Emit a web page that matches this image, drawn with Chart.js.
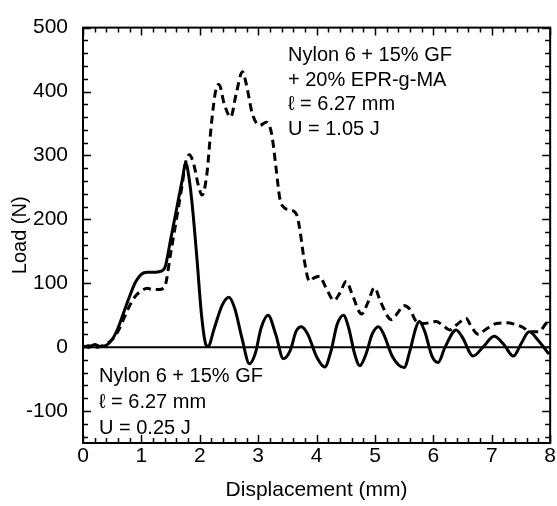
<!DOCTYPE html>
<html lang="en">
<head>
<meta charset="UTF-8" />
<title>Load vs Displacement</title>
<script src="https://cdn.jsdelivr.net/npm/chart.js"></script>
<style>
  body { margin: 0; background: #fff; }
  #wrap { width: 557px; height: 506px; }
</style>
</head>
<body>
<div id="wrap"><canvas id="grafico"></canvas></div>
<script>
// Nylon 6 + 15% GF + 20% EPR-g-MA (dashed)
const xBlend = [0.00, 0.10, 0.20, 0.30, 0.40, 0.50, 0.60, 0.70, 0.80, 0.90, 1.00, 1.10, 1.20, 1.30, 1.40,
  1.50, 1.60, 1.70, 1.76, 1.82, 1.90, 1.97, 2.04, 2.12, 2.20, 2.28, 2.33, 2.42, 2.53, 2.62, 2.73, 2.80,
  2.90, 3.03, 3.14, 3.23, 3.30, 3.37, 3.45, 3.54, 3.66, 3.72, 3.78, 3.88, 3.95, 4.05, 4.15, 4.30, 4.40,
  4.51, 4.60, 4.77, 4.88, 4.99, 5.10, 5.28, 5.40, 5.49, 5.59, 5.71, 5.83, 6.05, 6.15, 6.28, 6.40, 6.56,
  6.65, 6.77, 6.90, 7.08, 7.25, 7.42, 7.55, 7.64, 7.81, 7.93, 8.00];
const yBlend = [0, 2, 0, 1, 5, 12, 25, 45, 65, 80, 88, 92, 90, 90, 95,
  146, 200, 255, 290, 301, 285, 255, 238, 270, 350, 405, 411, 380, 360, 395, 431, 410,
  365, 347, 352, 334, 285, 233, 218, 215, 207, 180, 141, 103, 108, 111, 95, 73, 85,
  103, 85, 52, 70, 93, 70, 43, 55, 65, 60, 40, 37, 40, 35, 27, 35, 45,
  32, 20, 28, 37, 38, 35, 30, 24, 24, 37, 40];

// Nylon 6 + 15% GF (solid)
const xPlain = [0.00, 0.10, 0.20, 0.30, 0.40, 0.50, 0.60, 0.70, 0.80, 0.90, 1.00, 1.10, 1.20, 1.30, 1.40,
  1.50, 1.60, 1.70, 1.76, 1.82, 1.87, 1.95, 2.03, 2.10, 2.14, 2.25, 2.38, 2.50, 2.60, 2.72, 2.85, 2.95,
  3.05, 3.17, 3.30, 3.43, 3.55, 3.65, 3.74, 3.85, 4.00, 4.14, 4.25, 4.35, 4.46, 4.55, 4.65, 4.74, 4.85,
  4.95, 5.06, 5.15, 5.30, 5.50, 5.60, 5.70, 5.76, 5.85, 5.98, 6.08, 6.20, 6.39, 6.50, 6.68, 6.85, 7.04,
  7.20, 7.37, 7.50, 7.64, 7.80, 7.98];
const yPlain = [2, 0, 4, 1, 3, 12, 30, 55, 80, 102, 114, 117, 117, 118, 124,
  168, 215, 262, 288, 262, 223, 140, 50, 5, 1, 30, 65, 78, 60, 15, -26, -10,
  30, 50, 20, -18, -5, 25, 32, 20, -15, -31, -5, 35, 50, 30, -10, -29, -10,
  20, 32, 20, -15, -32, -5, 30, 40, 25, -15, -24, 0, 27, 15, -14, 0, 17,
  5, -14, 5, 24, 10, -11];

const xTicks = [0, 1, 2, 3, 4, 5, 6, 7, 8];
const yTicks = [-100, 0, 100, 200, 300, 400, 500];

const textoBlend = ['Nylon 6 + 15% GF', '+ 20% EPR-g-MA', '\u2113 = 6.27 mm', 'U = 1.05 J'];
const textoPlain = ['Nylon 6 + 15% GF', '\u2113 = 6.27 mm', 'U = 0.25 J'];

const fonte = '"Liberation Sans", Arial, sans-serif';

function pares(xs, ys) {
  return xs.map((x, i) => ({ x: x, y: ys[i] }));
}

// moldura, ticks internos (maiores e menores), linha do zero e textos
const molduraPlugin = {
  id: 'moldura',
  afterDatasetsDraw(chart) {
    const { ctx, chartArea: a, scales: { x, y } } = chart;
    ctx.save();
    ctx.strokeStyle = '#000';

    // linha do zero
    ctx.lineWidth = 2;
    ctx.beginPath();
    ctx.moveTo(a.left, y.getPixelForValue(0));
    ctx.lineTo(a.right, y.getPixelForValue(0));
    ctx.stroke();

    ctx.lineWidth = 1.5;
    ctx.beginPath();
    for (let i = 0; i <= 40; i++) {
      const v = i * 0.2;
      const px = Math.round(x.getPixelForValue(v)) + 0.5;
      const len = (i % 5 === 0) ? 8 : 5;
      ctx.moveTo(px, a.bottom); ctx.lineTo(px, a.bottom - len);
      ctx.moveTo(px, a.top); ctx.lineTo(px, a.top + len);
    }
    for (let v = -140; v <= 500; v += 20) {
      const py = Math.round(y.getPixelForValue(v)) + 0.5;
      const len = (v % 100 === 0) ? 8 : 5;
      ctx.moveTo(a.left, py); ctx.lineTo(a.left + len, py);
      ctx.moveTo(a.right, py); ctx.lineTo(a.right - len, py);
    }
    ctx.stroke();

    ctx.lineWidth = 2;
    ctx.strokeRect(a.left, a.top, a.right - a.left, a.bottom - a.top);

    // textos
    ctx.fillStyle = '#000';
    ctx.font = '20px ' + fonte;
    ctx.textAlign = 'left';
    ctx.textBaseline = 'middle';
    textoBlend.forEach((t, i) => ctx.fillText(t, a.left + 205, a.top + 28 + i * 24.5));
    textoPlain.forEach((t, i) => ctx.fillText(t, a.left + 16, a.top + 349 + i * 26));
    ctx.restore();
  }
};

new Chart(document.getElementById('grafico'), {
  type: 'line',
  data: {
    datasets: [
      {
        label: 'Nylon 6 + 15% GF + 20% EPR-g-MA',
        data: pares(xBlend, yBlend),
        borderColor: '#000',
        borderWidth: 3,
        borderDash: [8, 5],
        pointRadius: 0,
        fill: false,
        cubicInterpolationMode: 'monotone'
      },
      {
        label: 'Nylon 6 + 15% GF',
        data: pares(xPlain, yPlain),
        borderColor: '#000',
        borderWidth: 3,
        pointRadius: 0,
        fill: false,
        cubicInterpolationMode: 'monotone'
      }
    ]
  },
  options: {
    responsive: true,
    maintainAspectRatio: false,
    animation: false,
    layout: { padding: { top: 18, right: 6, left: 0, bottom: 0 } },
    plugins: { legend: { display: false }, tooltip: { enabled: false } },
    scales: {
      x: {
        type: 'linear',
        min: 0,
        max: 8,
        afterBuildTicks: s => { s.ticks = xTicks.map(v => ({ value: v })); },
        afterFit: s => { s.height = 63; },
        grid: { display: false, drawTicks: false },
        border: { display: false },
        ticks: { color: '#000', padding: 1, font: { family: fonte, size: 21 } },
        title: {
          display: true,
          text: 'Displacement (mm)',
          color: '#000',
          padding: { top: 0, bottom: 3 },
          font: { family: fonte, size: 21 }
        }
      },
      y: {
        type: 'linear',
        min: -150,
        max: 500,
        afterBuildTicks: s => { s.ticks = yTicks.map(v => ({ value: v })); },
        afterFit: s => { s.width = 83; },
        grid: { display: false, drawTicks: false },
        border: { display: false },
        ticks: { color: '#000', padding: 15, font: { family: fonte, size: 21 } },
        title: {
          display: true,
          text: 'Load (N)',
          color: '#000',
          padding: { top: 8, bottom: 0 },
          font: { family: fonte, size: 20 }
        }
      }
    }
  },
  plugins: [molduraPlugin]
});
</script>
</body>
</html>
